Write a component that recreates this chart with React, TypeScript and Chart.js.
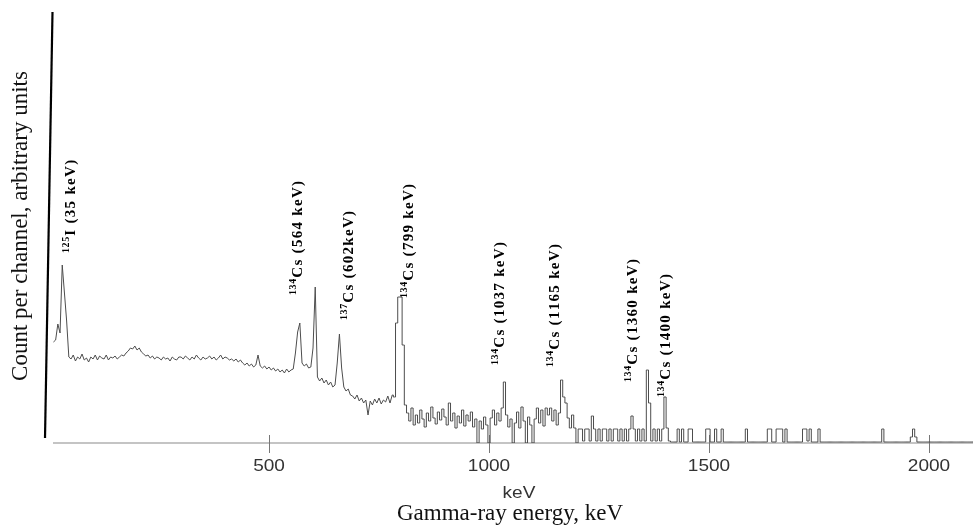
import React, { useEffect, useRef } from "react";
import { Chart, registerables } from "chart.js";

Chart.register(...registerables);

// Channel calibration (keV)
const START_KEV = 10;
const CHANNEL_KEV = 5;
// Energy where the drawing switches from a plain line to a histogram step line
const STEP_FROM_KEV = 780;

// Counts per channel (arbitrary units)
const countsLow = [
  101, 103, 119, 110, 178, 150, 122, 86, 84, 88, 82, 86, 84, 89, 83, 85, 81, 86, 84, 88,
  83, 87, 85, 84, 88, 83, 86, 85, 87, 84, 86, 88, 87, 90, 92, 95, 94, 97, 93, 95,
  91, 89, 87, 88, 85, 87, 84, 86, 85, 83, 86, 84, 85, 82, 86, 84, 83, 86,
];
const countsMid1 = [
  86, 84, 87, 85, 83, 86, 84, 88, 85, 83, 86, 84, 85, 87, 84, 86, 83, 85, 88, 84,
  86, 85, 83, 84, 82, 84, 81, 83, 80, 78, 80, 77, 79, 76, 78, 88, 77, 75, 77, 74,
  76, 73, 75, 72, 74, 71, 73, 70, 74, 71, 73, 74, 90, 111, 120, 80, 77, 79, 75, 76,
];
const countsMid2 = [
  95, 156, 66, 62, 65, 60, 63, 58, 61, 56, 58, 80, 109, 75, 56, 52, 54, 48, 47, 44,
  48, 42, 45, 40, 43, 28, 42, 38, 44, 40, 45, 39, 43, 41, 47, 40, 48, 46, 120, 146,
  146, 98, 38, 30, 22, 35, 18, 28, 20, 33, 24, 16, 30, 22, 36, 25, 19, 31, 23, 34,
];
const countsMid3 = [
  26, 18, 40, 22, 30, 15, 27, 20, 33, 17, 28, 22, 31, 16, 24, 0, 22, 14, 26, 18,
  0, 25, 33, 18, 30, 22, 35, 61, 28, 16, 24, 0, 20, 31, 15, 36, 22, 0, 26, 18,
  0, 24, 35, 20, 33, 17, 35, 28, 35, 22, 33, 18, 30, 63, 46, 40, 25, 15, 28, 15,
];
const countsHigh1 = [
  0, 14, 14, 2, 14, 14, 2, 27, 14, 2, 14, 2, 14, 14, 2, 14, 2, 14, 14, 2,
  14, 2, 14, 2, 14, 27, 14, 2, 14, 2, 14, 2, 73, 40, 2, 14, 2, 14, 2, 14,
  46, 15, 2, 1, 1, 1, 14, 1, 14, 1, 1, 14, 14, 1, 1, 1, 1, 1, 1, 14,
];
const countsTail = [
  14, 1, 1, 14, 1, 1, 14, 1, 1, 1, 1, 1, 1, 1, 1, 1, 1, 14, 1, 1,
  1, 1, 1, 1, 1, 1, 1, 14, 14, 1, 1, 14, 14, 14, 1, 14, 1, 1, 1, 1,
  1, 1, 1, 14, 14, 2, 14, 1, 1, 1, 14, 1, 1, 1, 1, 1, 1, 1, 1, 1,
  1, 1, 1, 1, 1, 1, 1, 1, 1, 1, 1, 1, 1, 1, 1, 1, 1, 1, 1, 14,
  1, 1, 1, 1, 1, 1, 1, 1, 1, 1, 1, 1, 6, 14, 6, 1, 1, 1, 1, 1,
  1, 1, 1, 1, 1, 1, 1, 1, 1, 1, 1, 1, 1, 1, 1, 1, 1, 1, 1, 1, 1,
];

// Axis
const X_MIN = 9;
const X_MAX = 2100;
const Y_MAX = 403;
const xTicks = [500, 1000, 1500, 2000];

// Peak annotations
const peakMass = ["125", "134", "137", "134", "134", "134", "134", "134"];
const peakElement = ["I", "Cs", "Cs", "Cs", "Cs", "Cs", "Cs", "Cs"];
const peakText = [
  " (35 keV)",
  " (564 keV)",
  " (602keV)",
  " (799 keV)",
  " (1037 keV)",
  " (1165 keV)",
  " (1360 keV)",
  " (1400 keV)",
];
const peakLabelKeV = [59, 575, 691, 827, 1034, 1159, 1336, 1411];
const peakLabelBase = [190, 148, 123, 145, 78, 76, 61, 46];

const SERIF = '"Liberation Serif", "Times New Roman", serif';
const SANS = '"Liberation Sans", Arial, sans-serif';

function drawSpaced(ctx: CanvasRenderingContext2D, text: string, x: number, y: number, spacing: number) {
  let cx = x;
  for (const ch of text) {
    ctx.fillText(ch, cx, y);
    cx += ctx.measureText(ch).width + spacing;
  }
  return cx;
}

function drawStretched(ctx: CanvasRenderingContext2D, text: string, x: number, y: number, sx: number) {
  ctx.save();
  ctx.translate(x, y);
  ctx.scale(sx, 1);
  ctx.fillText(text, 0, 0);
  ctx.restore();
}

const decorPlugin = {
  id: "decor",
  beforeDatasetsDraw(chart: any) {
    const ctx: CanvasRenderingContext2D = chart.ctx;
    const xs = chart.scales.x;
    const area = chart.chartArea;
    const yAxis = chart.scales.y.getPixelForValue(0);
    ctx.save();
    ctx.strokeStyle = "#c4c4c4";
    ctx.lineWidth = 2;
    ctx.beginPath();
    ctx.moveTo(area.left, yAxis);
    ctx.lineTo(area.right, yAxis);
    ctx.stroke();
    ctx.strokeStyle = "#777";
    ctx.lineWidth = 1;
    for (const t of xTicks) {
      const px = Math.round(xs.getPixelForValue(t)) + 0.5;
      ctx.beginPath();
      ctx.moveTo(px, yAxis - 8);
      ctx.lineTo(px, yAxis + 10);
      ctx.stroke();
    }
    ctx.restore();
  },
  afterDraw(chart: any) {
    const ctx: CanvasRenderingContext2D = chart.ctx;
    const xs = chart.scales.x;
    const ys = chart.scales.y;
    const area = chart.chartArea;
    const yAxis = ys.getPixelForValue(0);
    ctx.save();
    // slanted y axis line
    ctx.strokeStyle = "#000";
    ctx.lineWidth = 2.2;
    ctx.beginPath();
    ctx.moveTo(area.left - 0.5, 12);
    ctx.lineTo(area.left - 8, yAxis - 5);
    ctx.stroke();

    // tick labels
    ctx.fillStyle = "#333";
    ctx.font = `17px ${SANS}`;
    ctx.textAlign = "center";
    ctx.textBaseline = "middle";
    for (const t of xTicks) {
      drawStretched(ctx, String(t), xs.getPixelForValue(t), yAxis + 23, 1.12);
    }
    drawStretched(ctx, "keV", (area.left + area.right) / 2 + 6, yAxis + 50, 1.12);

    // axis titles
    ctx.fillStyle = "#111";
    ctx.font = `23px ${SERIF}`;
    ctx.fillText("Gamma-ray energy, keV", (area.left + area.right) / 2 - 3, yAxis + 71);
    ctx.save();
    ctx.translate(21, 226);
    ctx.rotate(-Math.PI / 2);
    ctx.font = `23px ${SERIF}`;
    ctx.fillText("Count per channel, arbitrary units", 0, 0);
    ctx.restore();

    // peak labels
    ctx.fillStyle = "#000";
    ctx.textAlign = "left";
    ctx.textBaseline = "alphabetic";
    for (let i = 0; i < peakMass.length; i++) {
      const px = xs.getPixelForValue(peakLabelKeV[i]);
      const py = ys.getPixelForValue(peakLabelBase[i]);
      ctx.save();
      ctx.translate(px, py);
      ctx.rotate(-Math.PI / 2);
      ctx.font = `bold 10px ${SERIF}`;
      let cx = drawSpaced(ctx, peakMass[i], 0, -6, 0.6);
      ctx.font = `bold 15px ${SERIF}`;
      cx = drawSpaced(ctx, peakElement[i] + peakText[i], cx + 0.5, 0, 1.3);
      ctx.restore();
    }
    ctx.restore();
  },
};

export default function App() {
  const ref = useRef<HTMLCanvasElement | null>(null);
  useEffect(() => {
    if (!ref.current) return;
    const counts = [
      ...countsLow,
      ...countsMid1,
      ...countsMid2,
      ...countsMid3,
      ...countsHigh1,
      ...countsTail,
    ];
    const points = counts.map((c, i) => ({ x: START_KEV + i * CHANNEL_KEV, y: c }));
    const continuum = points.filter((p) => p.x <= STEP_FROM_KEV);
    const histogram = points.filter((p) => p.x >= STEP_FROM_KEV);
    const common = {
      borderColor: "#4d4d4d",
      borderWidth: 1,
      pointRadius: 0,
      fill: false,
    };
    const chart = new Chart(ref.current, {
      type: "line",
      data: {
        datasets: [
          { ...common, data: continuum, stepped: false, tension: 0 },
          { ...common, data: histogram, stepped: "middle" },
        ],
      },
      options: {
        animation: false,
        responsive: false,
        devicePixelRatio: 1,
        layout: { padding: { left: 53, right: 0, top: 40, bottom: 82 } },
        scales: {
          x: { type: "linear", min: X_MIN, max: X_MAX, display: false },
          y: { min: 0, max: Y_MAX, display: false },
        },
        plugins: { legend: { display: false }, tooltip: { enabled: false } },
      },
      plugins: [decorPlugin],
    });
    return () => chart.destroy();
  }, []);
  return (
    <div style={{ position: "fixed", left: 0, top: 0, width: 973, height: 525, background: "#fff" }}>
      <canvas ref={ref} width={973} height={525} />
    </div>
  );
}
